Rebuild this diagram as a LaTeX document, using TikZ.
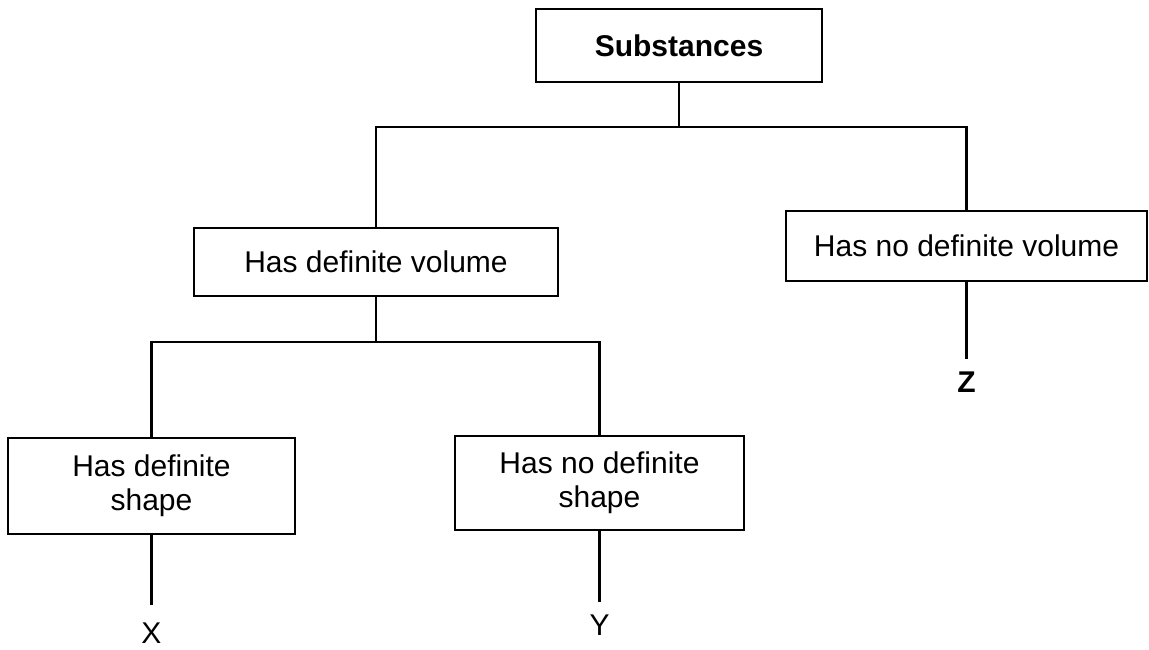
\documentclass[tikz,border=0pt]{standalone}
\usepackage{fontspec}
\setmainfont{Liberation Sans}
\begin{document}
\begin{tikzpicture}[x=1pt,y=-1pt,
  box/.style={draw=black,line width=2.2pt,rectangle,inner sep=0pt,align=center,
    font=\fontsize{30}{34}\selectfont},
  lab/.style={inner sep=0pt,font=\fontsize{30}{34}\selectfont},
  conn/.style={draw=black,line width=2.2pt}]
\useasboundingbox (0,0) rectangle (1149,649);
\node[box,minimum width=286pt,minimum height=73pt,font=\fontsize{30}{34}\selectfont\bfseries] (sub) at (679,45.5) {Substances};
\node[box,minimum width=364pt,minimum height=68pt] (hdv) at (376,262) {Has definite volume};
\node[box,minimum width=361pt,minimum height=70pt] (hndv) at (966.5,246) {Has no definite volume};
\node[box,minimum width=287pt,minimum height=96pt] (hds) at (151.5,486) {Has definite\\shape};
\node[box,minimum width=289pt,minimum height=94pt] (hnds) at (599.5,483) {Has no definite\\shape};
\node[lab] (X) at (151.5,633) {X};
\node[lab] (Y) at (599.5,625) {Y};
\node[lab,font=\fontsize{30}{34}\selectfont\bfseries] (Z) at (966.5,382) {Z};
\coordinate (j1) at (679,127);
\coordinate (j2) at (376,342);
\draw[conn] (sub.south) -- (j1);
\draw[conn] (hdv.north) |- (j1) -| (hndv.north);
\draw[conn] (hdv.south) -- (j2);
\draw[conn] (hds.north) |- (j2) -| (hnds.north);
\draw[conn,shorten >=17pt] (hds.south) -- (X.north);
\draw[conn,shorten >=12pt] (hnds.south) -- (Y.north);
\draw[conn,shorten >=12pt] (hndv.south) -- (Z.north);
\end{tikzpicture}
\end{document}
